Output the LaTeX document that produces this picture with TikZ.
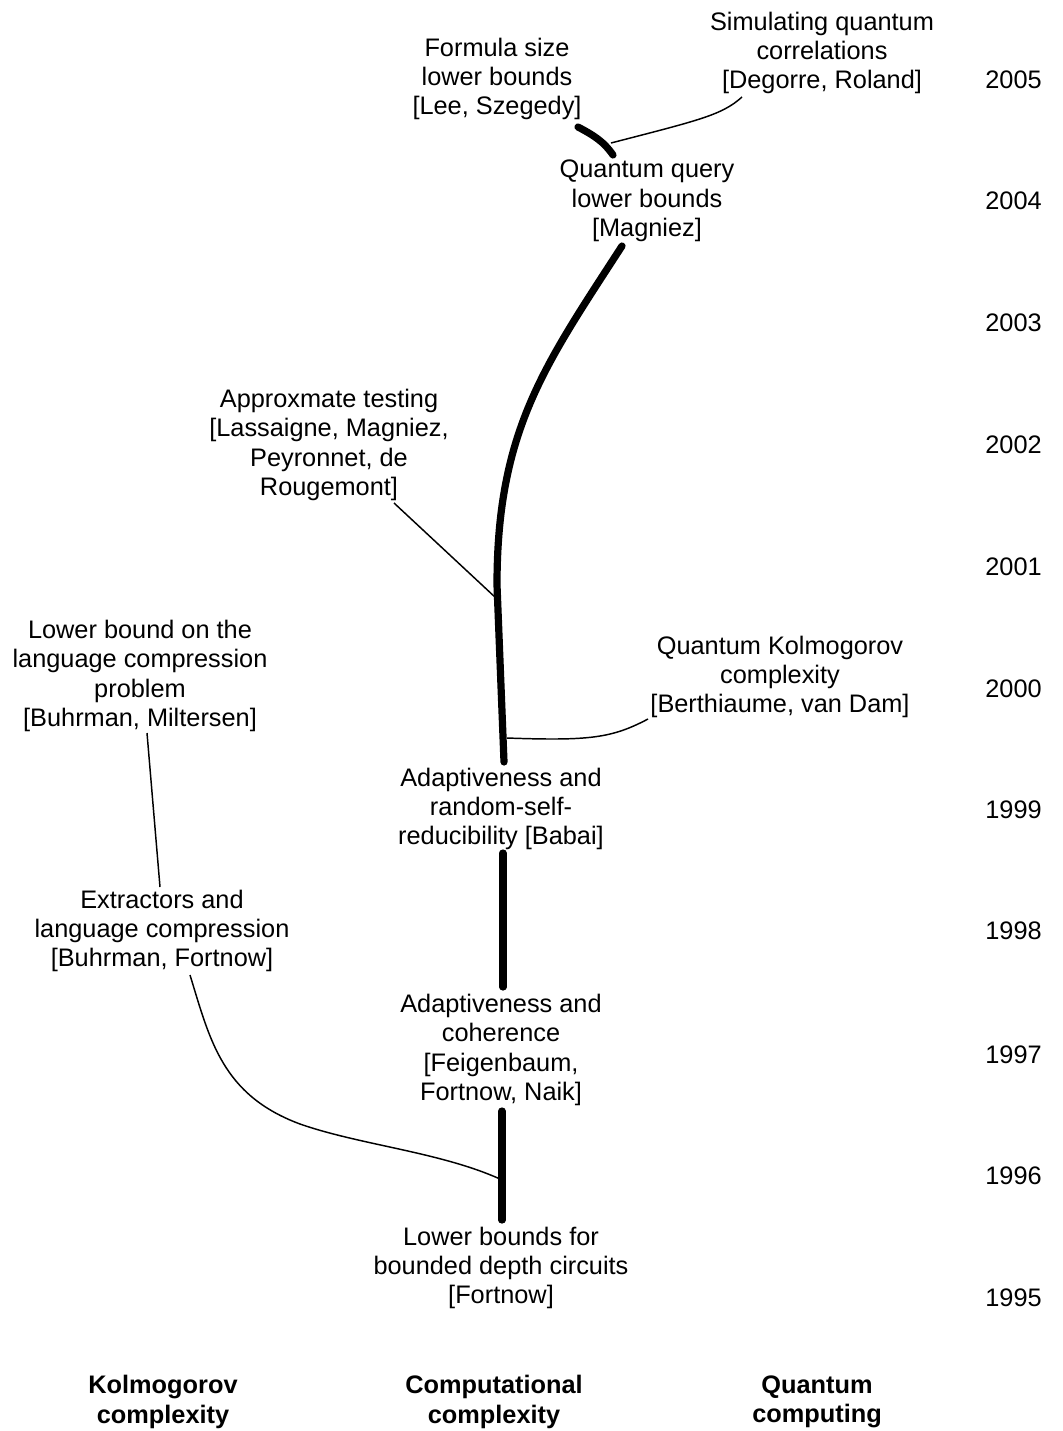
\documentclass[tikz,border=0pt]{standalone}
\usepackage{fontspec}
\setmainfont{Liberation Sans}
\begin{document}
\begin{tikzpicture}[x=0.75pt,y=-0.75pt,
  every node/.style={font=\fontsize{19}{22}\selectfont, align=center, inner sep=0pt},
  paper/.style={},
  header/.style={font=\bfseries\fontsize{19}{22}\selectfont},
  year/.style={anchor=east},
  thread/.style={line width=5.4pt, line cap=round},
  link/.style={line width=1.1pt}]
\useasboundingbox (0,0) rectangle (1063,1431);

% year scale
\foreach \yr/\yy in {2005/80,2004/201,2003/323,2002/445,2001/567,2000/689,1999/810,1998/931,1997/1055,1996/1176,1995/1298}
  \node[year] (y\yr) at (1042,\yy) {\yr};

% papers
\node[paper] (lee) at (497,79) {Formula size\\lower bounds\\{[Lee, Szegedy]}};
\node[paper] (degorre) at (822,53) {Simulating quantum\\correlations\\{[Degorre, Roland]}};
\node[paper] (magniez) at (647,201) {Quantum query\\lower bounds\\{[Magniez]}};
\node[paper] (lassaigne) at (329,445) {Approxmate testing\\{[Lassaigne, Magniez,}\\Peyronnet, de\\Rougemont]};
\node[paper] (miltersen) at (140,676) {Lower bound on the\\language compression\\problem\\{[Buhrman, Miltersen]}};
\node[paper] (berthiaume) at (780,677) {Quantum Kolmogorov\\complexity\\{[Berthiaume, van Dam]}};
\node[paper] (babai) at (501,809) {Adaptiveness and\\random-self-\\reducibility [Babai]};
\node[paper] (extractors) at (162,931) {Extractors and\\language compression\\{[Buhrman, Fortnow]}};
\node[paper] (feigenbaum) at (501,1050) {Adaptiveness and\\coherence\\{[Feigenbaum,}\\Fortnow, Naik]};
\node[paper] (fortnow) at (501,1268) {Lower bounds for\\bounded depth circuits\\{[Fortnow]}};

% column headers
\node[header] (kol) at (163,1402) {Kolmogorov\\complexity};
\node[header] (comp) at (494,1402) {Computational\\complexity};
\node[header] (quant) at (817,1402) {Quantum\\computing};

% points where the threads meet the papers
\coordinate (leeEnd) at (578,127);
\coordinate (magTop) at (613,155);
\coordinate (magBot) at (622,246);
\coordinate (babTop) at (504,762);
\coordinate (babBot) at (503,853);
\coordinate (feiTop) at (503,987);
\coordinate (feiBot) at (502,1111);
\coordinate (forTop) at (502,1220);

% main research thread
\draw[thread] (leeEnd) .. controls (595,136) and (604,142) .. (magTop);
\draw[thread] (magBot) .. controls (545,365) and (497,430) .. (497,585) -- (babTop);
\draw[thread] (babBot) -- (feiTop);
\draw[thread] (feiBot) -- (forTop);

% junctions on the thread
\coordinate (jDeg) at (611,143);
\coordinate (jLas) at (496,598);
\coordinate (jBer) at (507,738);
\coordinate (jExt) at (500,1179);

% where the side links leave the papers
\coordinate (degS) at (742,97);
\coordinate (lasS) at (394,503);
\coordinate (berS) at (648,719);
\coordinate (milS) at (147,733);
\coordinate (extN) at (160,887);
\coordinate (extS) at (190,975);

% side links
\draw[link] (degS) .. controls (722,115) and (700,120) .. (jDeg);
\draw[link] (lasS) -- (jLas);
\draw[link] (berS) .. controls (612,738) and (590,741) .. (jBer);
\draw[link] (milS) -- (extN);
\draw[link] (extS)
  .. controls (210,1040) and (222,1095) .. (300,1124)
  .. controls (360,1145) and (440,1152) .. (jExt);
\end{tikzpicture}
\end{document}
